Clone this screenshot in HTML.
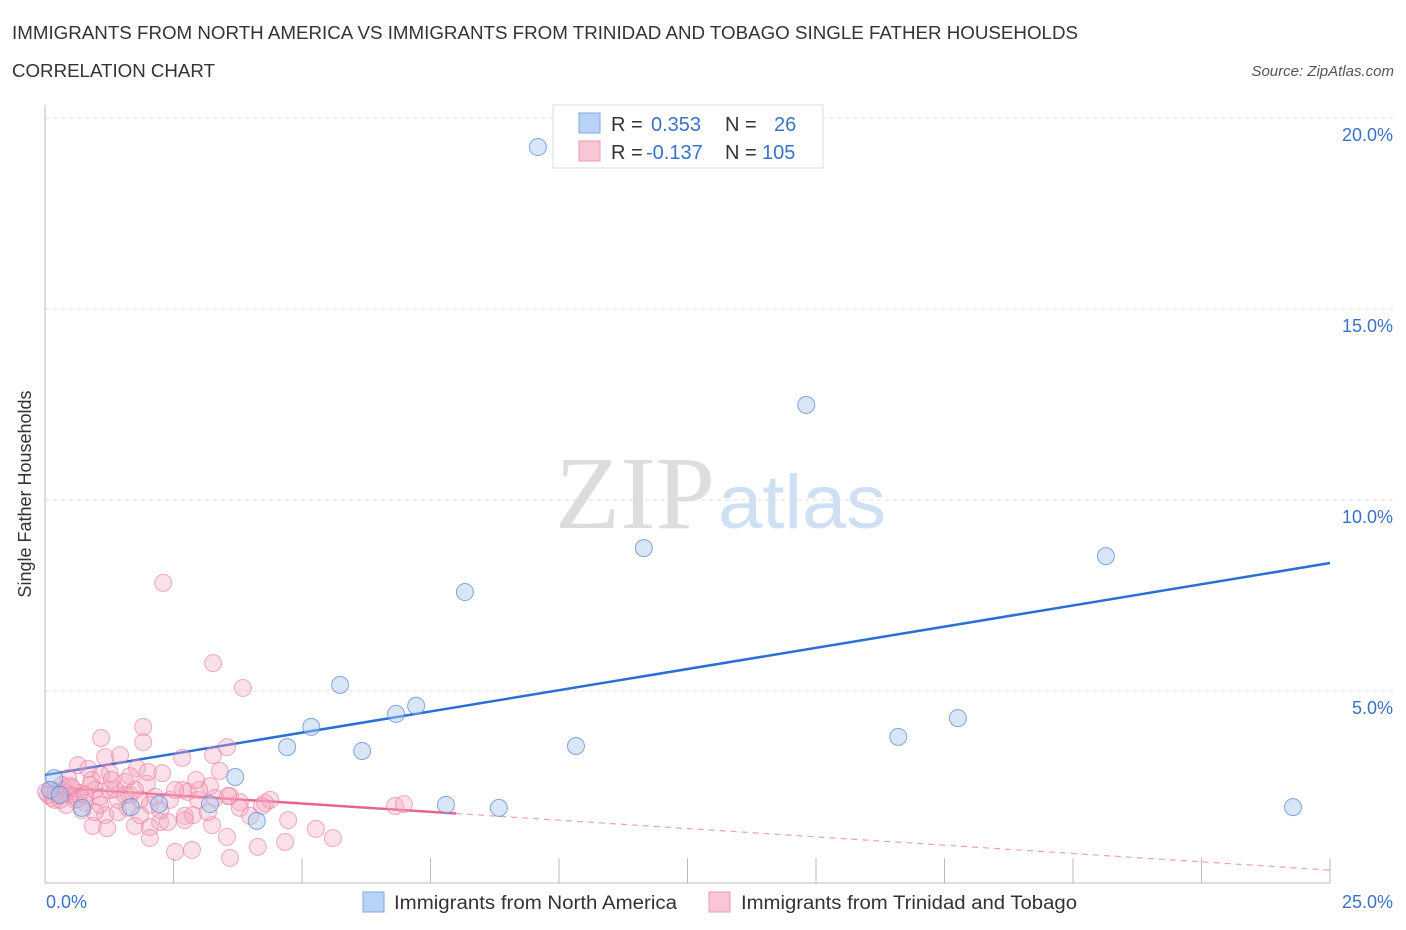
<!DOCTYPE html>
<html><head><meta charset="utf-8">
<style>
body{margin:0;background:#fff;width:1406px;height:930px;overflow:hidden;font-family:"Liberation Sans",sans-serif;}
svg{position:absolute;left:0;top:0}
</style></head>
<body>
<svg id="chart" width="1406" height="930">
  <text x="12" y="39" font-size="18" fill="#333" textLength="1066" lengthAdjust="spacingAndGlyphs">IMMIGRANTS FROM NORTH AMERICA VS IMMIGRANTS FROM TRINIDAD AND TOBAGO SINGLE FATHER HOUSEHOLDS</text>
  <text x="12" y="77" font-size="18" fill="#333" textLength="203" lengthAdjust="spacingAndGlyphs">CORRELATION CHART</text>
  <text x="1394" y="76" font-size="15" fill="#555" font-style="italic" text-anchor="end">Source: ZipAtlas.com</text>
  <text x="31" y="494" font-size="18" fill="#333" text-anchor="middle" transform="rotate(-90 31 494)">Single Father Households</text>
  <g>
    <text x="555" y="528" font-size="104" fill="#ddd" font-family="Liberation Serif,serif" textLength="160" lengthAdjust="spacingAndGlyphs">ZIP</text>
    <text x="718" y="528" font-size="76" fill="#cfe0f3" textLength="168" lengthAdjust="spacingAndGlyphs">atlas</text>
  </g>
  <g id="grid"></g>
  <g id="axes"></g>
  <g id="lines"></g>
  <g id="points"></g>
  <g>
    <rect x="553" y="105" width="270" height="63" fill="#fff" stroke="#ddd"/>
    <rect x="579" y="113" width="21" height="20" fill="#b8d3f5" stroke="#7ea9e3"/>
    <rect x="579" y="141" width="21" height="20" fill="#f9c6d6" stroke="#eb9ab5"/>
    <text x="611" y="131" font-size="20" fill="#333">R = </text>
    <text x="651" y="131" font-size="20" fill="#3a72c8">0.353</text>
    <text x="725" y="131" font-size="20" fill="#333">N = </text>
    <text x="774" y="131" font-size="20" fill="#3a72c8">26</text>
    <text x="611" y="159" font-size="20" fill="#333">R = </text>
    <text x="646" y="159" font-size="20" fill="#3a72c8">-0.137</text>
    <text x="725" y="159" font-size="20" fill="#333">N = </text>
    <text x="762" y="159" font-size="20" fill="#3a72c8">105</text>
  </g>
  <g>
    <rect x="363" y="892" width="21" height="20" fill="#b8d3f5" stroke="#7ea9e3"/>
    <text x="394" y="909" font-size="19" fill="#333" textLength="283" lengthAdjust="spacingAndGlyphs">Immigrants from North America</text>
    <rect x="709" y="892" width="21" height="20" fill="#f9c6d6" stroke="#eb9ab5"/>
    <text x="741" y="909" font-size="19" fill="#333" textLength="336" lengthAdjust="spacingAndGlyphs">Immigrants from Trinidad and Tobago</text>
  </g>
</svg>
<script>
const yTicks=[5,10,15,20];
const yTickLabels=["5.0%","10.0%","15.0%","20.0%"];
const xTickLabels=["0.0%","25.0%"];
const blueX=[9.59,14.81,11.65,20.64,8.17,5.74,7.22,6.83,17.76,5.18,16.60,4.71,10.33,6.17,3.70,2.22,3.21,7.80,8.83,24.28,4.12,0.72,1.67,0.18,0.10,0.29];
const blueY=[19.24,12.49,8.74,8.53,7.59,5.16,4.61,4.40,4.29,4.06,3.80,3.53,3.56,3.43,2.75,2.04,2.04,2.02,1.94,1.96,1.60,1.94,1.96,2.72,2.41,2.28];
const pinkX=[2.30,3.27,3.85,1.91,1.91,1.09,3.54,3.27,1.17,2.67,1.46,1.79,0.64,3.40,2.28,1.26,0.84,1.09,0.45,0.91,1.56,1.98,2.68,2.78,3.21,3.60,1.36,0.97,0.68,0.49,0.25,0.06,0.14,0.33,0.58,0.78,1.07,1.65,1.85,2.14,2.43,2.98,3.31,3.79,4.28,4.38,6.81,6.98,1.61,1.17,1.42,2.04,2.72,2.24,4.73,3.79,4.22,2.88,0.93,1.21,1.75,2.04,2.39,2.72,3.25,3.54,2.04,2.53,2.86,3.60,4.14,4.67,5.27,5.60,0.14,0.21,0.41,0.02,0.53,0.88,1.26,1.56,1.07,0.72,0.41,0.29,1.42,1.75,2.53,3.0,2.24,3.17,3.56,3.99,1.85,0.97,0.64,0.19,0.33,0.78,1.30,1.65,2.00,2.94,0.49];
const pinkY=[7.83,5.73,5.08,4.06,3.66,3.77,3.53,3.32,3.27,3.25,3.32,2.98,3.06,2.91,2.85,2.85,2.96,2.80,2.72,2.67,2.62,2.57,2.41,2.36,2.51,2.25,2.43,2.41,2.33,2.28,2.25,2.28,2.41,2.41,2.15,2.07,2.23,2.28,2.15,2.23,2.15,2.15,2.20,2.09,2.07,2.15,1.99,2.04,1.94,1.75,1.83,2.02,1.73,1.57,1.62,1.94,1.99,1.75,1.47,1.41,1.47,1.44,1.57,1.62,1.49,1.18,1.15,0.79,0.84,0.63,0.92,1.05,1.39,1.15,2.20,2.36,2.33,2.36,2.46,2.54,2.41,2.28,2.02,1.88,2.02,2.15,2.15,2.41,2.41,2.41,1.88,1.83,2.25,1.73,1.75,1.83,2.17,2.15,2.54,2.28,2.67,2.77,2.88,2.67,2.51];
const blueLine=[2.80,8.35];
const pinkLine=[2.49,0.31];
const pinkSolidEnd=8.0;

const X0=45,X1=1330,Y0=882,Y20=118;
const sx=v=>X0+(X1-X0)*v/25;
const sy=v=>Y0-(Y0-Y20)*v/20;
const NS="http://www.w3.org/2000/svg";
function mk(tag,attrs,parent){const e=document.createElementNS(NS,tag);for(const k in attrs)e.setAttribute(k,attrs[k]);parent.appendChild(e);return e;}
const grid=document.getElementById('grid'),axes=document.getElementById('axes'),lines=document.getElementById('lines'),pts=document.getElementById('points');
yTicks.forEach((t,i)=>{
  const l=mk('line',{x1:X0,x2:1394,y1:sy(t),y2:sy(t),stroke:'#ddd','stroke-dasharray':'4,4'},grid);
  
  
  const tx=mk('text',{x:1393,y:sy(t)+23,'font-size':18,fill:'#3a72c8','text-anchor':'end'},grid);
  tx.textContent=yTickLabels[i];
  
  
});
const ya=mk('line',{x1:X0,x2:X0,y1:105,y2:Y0+1,stroke:'#bbb'},axes);


const xa=mk('line',{x1:X0,x2:X1,y1:Y0+1,y2:Y0+1,stroke:'#bbb'},axes);


for(let i=1;i<=10;i++){
  const t=mk('line',{x1:sx(i*2.5),x2:sx(i*2.5),y1:858,y2:Y0+1,stroke:'#bbb'},axes);
  
  
}
const xl0=mk('text',{x:46,y:908,'font-size':18,fill:'#3a72c8'},axes);xl0.textContent=xTickLabels[0];


const xl1=mk('text',{x:1393,y:908,'font-size':18,fill:'#3a72c8','text-anchor':'end'},axes);xl1.textContent=xTickLabels[1];



pinkX.forEach((x,i)=>{
  const c=mk('circle',{cx:sx(x),cy:sy(pinkY[i]),r:8.5,fill:'rgba(247,166,192,0.35)',stroke:'rgba(232,120,156,0.6)','stroke-width':1},pts);
  
  
});
blueX.forEach((x,i)=>{
  const c=mk('circle',{cx:sx(x),cy:sy(blueY[i]),r:8.5,fill:'rgba(168,200,240,0.45)',stroke:'rgba(90,140,215,0.75)','stroke-width':1},pts);
  
  
});
const bl=mk('line',{x1:sx(0),y1:sy(blueLine[0]),x2:sx(25),y2:sy(blueLine[1]),stroke:'#2a6fd6','stroke-width':2.5},lines);


const py=x=>pinkLine[0]+(pinkLine[1]-pinkLine[0])*x/25;
const pl=mk('line',{x1:sx(0),y1:sy(py(0)),x2:sx(pinkSolidEnd),y2:sy(py(pinkSolidEnd)),stroke:'#e8638f','stroke-width':2.5},lines);


const pd=mk('line',{x1:sx(pinkSolidEnd),y1:sy(py(pinkSolidEnd)),x2:sx(25),y2:sy(py(25)),stroke:'#eea0b8','stroke-width':1.2,'stroke-dasharray':'6,5'},lines);


</script>
</body></html>
